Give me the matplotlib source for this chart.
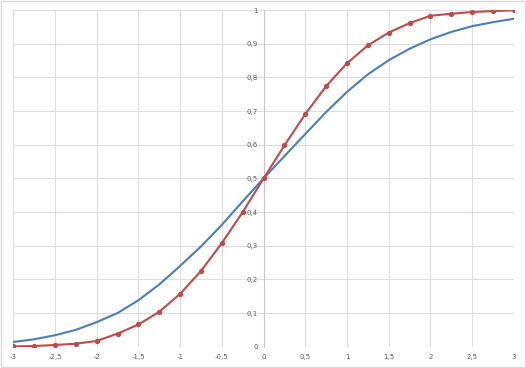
import matplotlib
matplotlib.use("Agg")
import matplotlib.pyplot as plt
from matplotlib.patches import Rectangle

x_vals = [-3, -2.75, -2.5, -2.25, -2, -1.75, -1.5, -1.25, -1, -0.75, -0.5, -0.25, 0,
          0.25, 0.5, 0.75, 1, 1.25, 1.5, 1.75, 2, 2.25, 2.5, 2.75, 3]
red_vals = [0.001, 0.002, 0.005, 0.009, 0.017, 0.039, 0.066, 0.104, 0.157, 0.225, 0.308, 0.400, 0.5,
            0.598, 0.691, 0.774, 0.842, 0.895, 0.933, 0.961, 0.983, 0.989, 0.994, 0.997, 0.999]
blue_vals = [0.014, 0.022, 0.034, 0.050, 0.073, 0.100, 0.138, 0.185, 0.240, 0.298, 0.362, 0.432, 0.5,
             0.566, 0.632, 0.697, 0.757, 0.809, 0.851, 0.885, 0.913, 0.935, 0.952, 0.964, 0.974]
x_ticks = [-3, -2.5, -2, -1.5, -1, -0.5, 0, 0.5, 1, 1.5, 2, 2.5, 3]
x_labels = ["-3", "-2,5", "-2", "-1,5", "-1", "-0,5", "0", "0,5", "1", "1,5", "2", "2,5", "3"]
y_ticks = [0, 0.1, 0.2, 0.3, 0.4, 0.5, 0.6, 0.7, 0.8, 0.9, 1.0]
y_labels = ["0", "0,1", "0,2", "0,3", "0,4", "0,5", "0,6", "0,7", "0,8", "0,9", "1"]

fig = plt.figure(figsize=(5.26, 3.68), dpi=100)
fig.patches.append(Rectangle((0.002, 0.003), 0.996, 0.994, transform=fig.transFigure,
                             fill=False, edgecolor="#D9D9D9", linewidth=1.0))
ax = fig.add_axes([0.0253, 0.0579, 0.9517, 0.9149])
ax.set_xlim(-3, 3)
ax.set_ylim(0, 1)

grid_c = "#DEDEDE"
for xt in x_ticks:
    ax.axvline(xt, color=grid_c, linewidth=0.8, zorder=0)
for yt in y_ticks:
    ax.axhline(yt, color=grid_c, linewidth=0.8, zorder=0)

for s in ["top", "right", "bottom"]:
    ax.spines[s].set_visible(False)
ax.spines["left"].set_position(("data", 0))
ax.spines["left"].set_color("#C8C8C8")
ax.spines["left"].set_linewidth(0.8)

ax.plot(x_vals, blue_vals, color="#4A7EBB", linewidth=1.5, zorder=3,
        solid_joinstyle="round")
ax.plot(x_vals, red_vals, color="#BE4B48", linewidth=1.5, marker="o", markersize=3.8,
        markeredgewidth=0, zorder=4, solid_joinstyle="round")

ax.set_xticks(x_ticks)
ax.set_xticklabels(x_labels)
ax.set_yticks(y_ticks)
ax.set_yticklabels(y_labels)
ax.tick_params(axis="x", length=0, pad=5, labelsize=5, labelcolor="#595959")
ax.tick_params(axis="y", length=0, pad=4, labelsize=5, labelcolor="#595959")

fig.savefig("out.png", dpi=100)
